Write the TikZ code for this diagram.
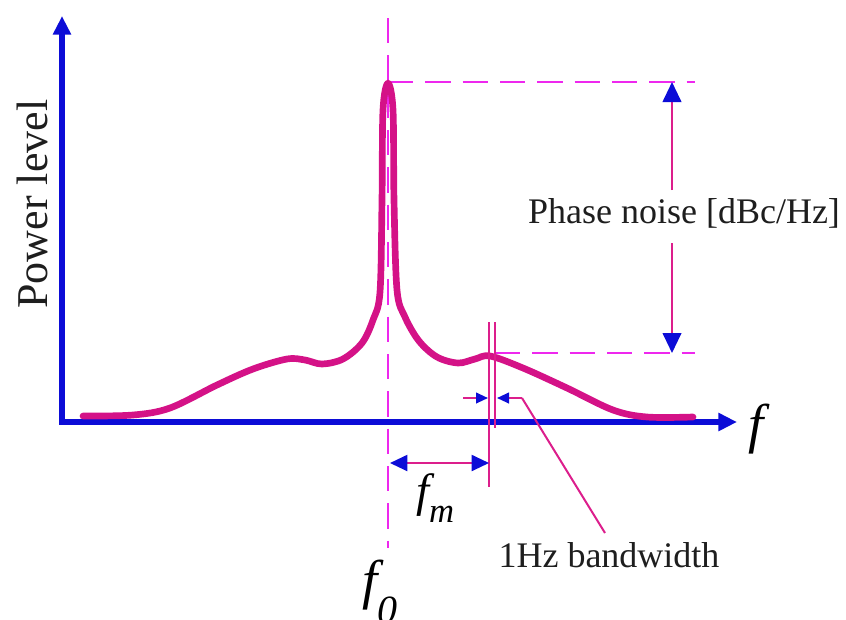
\documentclass[tikz,border=0pt]{standalone}
\usepackage{fontspec}
\setmainfont{Liberation Serif}
\usetikzlibrary{arrows.meta}
\definecolor{axisblue}{RGB}{12,12,215}
\definecolor{curvemag}{RGB}{212,18,135}
\definecolor{dashmag}{RGB}{238,40,238}
\definecolor{thinmag}{RGB}{220,30,140}
\definecolor{txt}{RGB}{30,30,30}
\begin{document}
\begin{tikzpicture}[x=0.75pt,y=-0.75pt,
  axis/.style={draw=axisblue,line width=4.5pt,line join=miter,
    {Triangle[length=14pt,width=13pt]}-{Triangle[length=14pt,width=13pt]}},
  spectrum/.style={draw=curvemag,line width=5pt,line cap=round,line join=round},
  guide/.style={draw=dashmag,line width=1.8pt,dash pattern=on 19pt off 9pt},
  thinline/.style={draw=thinmag,line width=1.5pt},
  dimarrow/.style={thinline,-{Triangle[length=15pt,width=14pt,color=axisblue]}},
  fmarrow/.style={thinline,{Triangle[length=13pt,width=12pt,color=axisblue]}-{Triangle[length=13pt,width=12pt,color=axisblue]}},
  smallarrow/.style={thinline,-{Triangle[length=9pt,width=8pt,color=axisblue]}},
  lbl/.style={font=\fontsize{27}{30}\selectfont,text=txt,inner sep=1pt},
  flbl/.style={text=black,inner sep=0pt},
]
\useasboundingbox (0,0) rectangle (846,619);
% axes
\coordinate (O) at (62,422);
\coordinate (ytip) at (62,16);
\coordinate (xtip) at (737,422);
\draw[axis] (ytip) -- (O) -- (xtip);
% guides
\coordinate (vtop) at (388,18);
\coordinate (vbot) at (388,548);
\coordinate (peak) at (388,82);
\coordinate (peakend) at (695,82);
\coordinate (sb) at (495,353);
\coordinate (sbend) at (695,353);
\draw[guide] (vtop) -- (vbot);
\draw[guide] (peak) -- (peakend);
\draw[guide] (sb) -- (sbend);
% spectrum
\draw[spectrum] plot[smooth,tension=0.55] coordinates {(83,416) (133,415) (170,408) (217,385) (253,369) (287,359) (305,360) (322,364) (343,359) (362,343) (373,320) (380,292) (382,200) (383,110) (388,83) (393,110) (394,200) (397,290) (405,317) (419,341) (437,357) (458,363) (475,359) (490,356) (523,368) (567,388) (613,410) (647,417) (693,417)};
% 1 Hz bandwidth lines
\coordinate (bwLtop) at (489,322);
\coordinate (bwLbot) at (489,487);
\coordinate (bwRtop) at (495,322);
\coordinate (bwRbot) at (495,428);
\draw[thinline] (bwLtop) -- (bwLbot);
\draw[thinline] (bwRtop) -- (bwRbot);
% f_m arrow
\coordinate (fmA) at (390,463);
\coordinate (fmB) at (489,463);
\draw[fmarrow] (fmA) -- (fmB);
% small arrows
\coordinate (saL) at (463,398);
\coordinate (saLt) at (488,398);
\coordinate (saR) at (522,398);
\coordinate (saRt) at (497,398);
\draw[smallarrow] (saL) -- (saLt);
\draw[smallarrow] (saR) -- (saRt);
\coordinate (lead) at (605,533);
\draw[thinline] (saR) -- (lead);
% phase noise dimension
\node[lbl] (pn) at (684,213) {Phase noise [dBc/Hz]};
\coordinate (pnA) at (672,190);
\coordinate (pnB) at (672,243);
\coordinate (pnTop) at (672,82);
\coordinate (pnBot) at (672,353);
\draw[dimarrow] (pnA) -- (pnTop);
\draw[dimarrow] (pnB) -- (pnBot);
% labels
\node[lbl] (bw) at (609,555) {1Hz bandwidth};
\node[lbl,font=\fontsize{33}{36}\selectfont,rotate=90] (pl) at (32,204) {Power level};
\node[flbl,font=\fontsize{41}{44}\selectfont\itshape] (fl) at (756,429) {f};
\node[flbl,anchor=base west] (fm) at (416,506) {\fontsize{35}{38}\selectfont\itshape f\raisebox{-12pt}{\fontsize{26}{28}\selectfont m}};
\node[flbl,anchor=base west] (f0) at (362,598) {\fontsize{41}{44}\selectfont\itshape f\raisebox{-19pt}{\fontsize{30}{32}\selectfont 0}};
\end{tikzpicture}
\end{document}
